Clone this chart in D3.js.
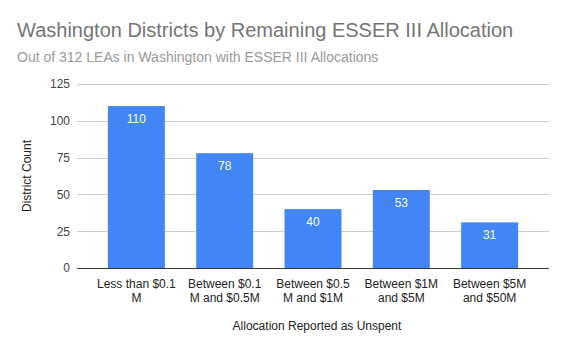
<!DOCTYPE html>
<html>
<head>
<meta charset="utf-8">
<script src="https://cdn.jsdelivr.net/npm/d3@7"></script>
<style>
  body { margin: 0; background: #fff; }
  svg { font-family: Arial, "Liberation Sans", sans-serif; }
</style>
</head>
<body>
<div id="chart"></div>
<script>
// data
const categories = [
    ["Less than $0.1", "M"],
    ["Between $0.1", "M and $0.5M"],
    ["Between $0.5", "M and $1M"],
    ["Between $1M", "and $5M"],
    ["Between $5M", "and $50M"]
];
const counts = [110, 78, 40, 53, 31];
const yTicks = [0, 25, 50, 75, 100, 125];

const W = 569, H = 352;
const margin = {top: 84, right: 20, bottom: 84, left: 77};
const width = W - margin.left - margin.right;
const height = H - margin.top - margin.bottom;

const svg = d3.select("#chart").append("svg")
    .attr("width", W)
    .attr("height", H);

// titles
svg.append("text")
    .attr("x", 17).attr("y", 37)
    .attr("font-size", 20)
    .attr("fill", "#757575")
    .text("Washington Districts by Remaining ESSER III Allocation");

svg.append("text")
    .attr("x", 17).attr("y", 62)
    .attr("font-size", 14)
    .attr("fill", "#999")
    .text("Out of 312 LEAs in Washington with ESSER III Allocations");

const g = svg.append("g")
    .attr("transform", `translate(${margin.left},${margin.top})`);

const x = d3.scaleBand()
    .domain(d3.range(categories.length))
    .range([0, width])
    .paddingInner(0.355)
    .paddingOuter(0.35);

const y = d3.scaleLinear()
    .domain([0, 125])
    .range([height, 0]);

// gridlines
g.append("g")
    .selectAll("line")
    .data(yTicks.filter(d => d > 0))
    .join("line")
    .attr("x1", 0).attr("x2", width)
    .attr("y1", d => Math.round(y(d)) + 0.5)
    .attr("y2", d => Math.round(y(d)) + 0.5)
    .attr("stroke", "#ccc");

// y tick labels
const yAxis = d3.axisLeft(y).tickValues(yTicks).tickSize(0).tickPadding(7);
g.append("g")
    .attr("class", "y-axis")
    .call(yAxis)
    .call(a => a.select(".domain").remove())
    .selectAll("text")
    .attr("font-size", 12)
    .attr("fill", "#444")
    .attr("font-family", "Arial, 'Liberation Sans', sans-serif");

// bars
g.selectAll("rect.bar")
    .data(counts)
    .join("rect")
    .attr("class", "bar")
    .attr("x", (d, i) => x(i))
    .attr("y", d => y(d))
    .attr("width", x.bandwidth())
    .attr("height", d => height - y(d))
    .attr("fill", "#4285f4");

// value labels
g.selectAll("text.val")
    .data(counts)
    .join("text")
    .attr("class", "val")
    .attr("x", (d, i) => x(i) + x.bandwidth() / 2)
    .attr("y", d => y(d) + 17)
    .attr("text-anchor", "middle")
    .attr("font-size", 12)
    .attr("fill", "#fff")
    .text(d => d);

// baseline
g.append("line")
    .attr("x1", 0).attr("x2", width)
    .attr("y1", height + 0.5).attr("y2", height + 0.5)
    .attr("stroke", "#333");

// x labels (two lines)
const xl = g.append("g").attr("class", "x-axis")
    .selectAll("text")
    .data(categories)
    .join("text")
    .attr("x", (d, i) => x(i) + x.bandwidth() / 2)
    .attr("y", height + 20)
    .attr("text-anchor", "middle")
    .attr("font-size", 12)
    .attr("fill", "#222");

xl.selectAll("tspan")
    .data(d => d)
    .join("tspan")
    .attr("x", function() { return d3.select(this.parentNode).attr("x"); })
    .attr("dy", (d, i) => i === 0 ? 0 : 14)
    .text(d => d);

// axis titles
svg.append("text")
    .attr("x", margin.left + width / 2 + 4)
    .attr("y", 330)
    .attr("text-anchor", "middle")
    .attr("font-size", 12)
    .attr("fill", "#222")
    .text("Allocation Reported as Unspent");

svg.append("text")
    .attr("transform", `translate(31,${margin.top + height / 2}) rotate(-90)`)
    .attr("text-anchor", "middle")
    .attr("font-size", 12)
    .attr("fill", "#222")
    .text("District Count");
</script>
</body>
</html>
